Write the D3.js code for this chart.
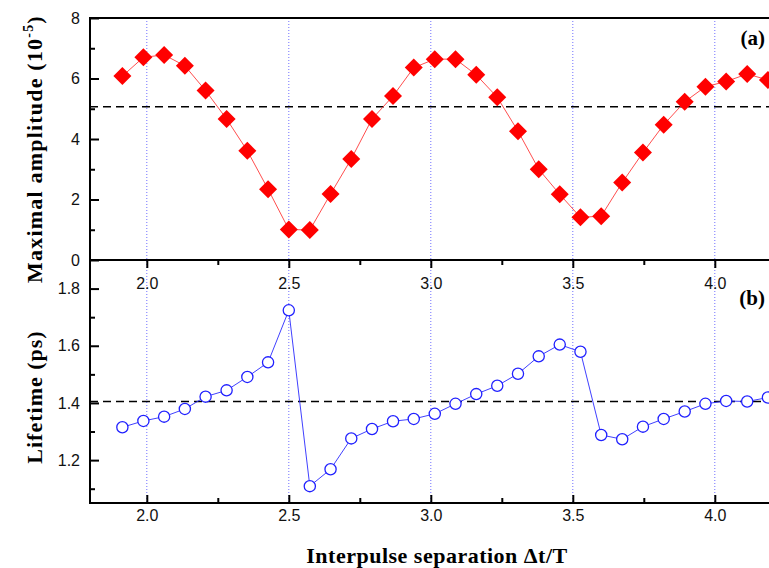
<!DOCTYPE html>
<html>
<head>
<meta charset="utf-8">
<script src="https://cdn.jsdelivr.net/npm/d3@7/dist/d3.min.js"></script>
<style>
  body { margin: 0; background: #fff; }
  svg { display: block; }
</style>
</head>
<body>
<div id="chart"></div>
<script>
// data
var separation = [1.914, 1.988, 2.061, 2.134, 2.207, 2.281, 2.354, 2.427, 2.500, 2.574,
  2.647, 2.720, 2.793, 2.867, 2.940, 3.014, 3.087, 3.160, 3.234, 3.307, 3.380, 3.454,
  3.527, 3.600, 3.674, 3.747, 3.820, 3.894, 3.967, 4.040, 4.114, 4.187];
var amplitude = [6.08, 6.70, 6.78, 6.42, 5.60, 4.66, 3.61, 2.34, 1.01, 0.99,
  2.18, 3.34, 4.66, 5.42, 6.36, 6.64, 6.64, 6.12, 5.38, 4.26, 3.00, 2.17,
  1.41, 1.45, 2.56, 3.55, 4.47, 5.23, 5.73, 5.90, 6.15, 5.95];
var lifetime = [1.315, 1.337, 1.352, 1.379, 1.422, 1.444, 1.491, 1.542, 1.724, 1.109,
  1.168, 1.276, 1.309, 1.336, 1.344, 1.362, 1.397, 1.431, 1.460, 1.502, 1.563, 1.604,
  1.579, 1.288, 1.273, 1.317, 1.344, 1.370, 1.397, 1.407, 1.405, 1.419];
var ampMean = 5.07;
var lifeMean = 1.405;

var xMajor = [2.0, 2.5, 3.0, 3.5, 4.0];
var xMinor = [2.25, 2.75, 3.25, 3.75, 4.25];
var ampMajor = [0, 2, 4, 6, 8];
var ampMinor = [1, 3, 5, 7];
var lifeMajor = [1.2, 1.4, 1.6, 1.8];
var lifeMinor = [1.1, 1.3, 1.5, 1.7];

var width = 769, height = 568;
var plotLeft = 90, plotTop = 18, plotMid = 260, plotBottom = 503;

var svg = d3.select('#chart').append('svg')
  .attr('width', width)
  .attr('height', height)
  .style('font-family', '"Liberation Sans", Arial, sans-serif');

// x runs past the right edge, the original is cut off there
var x = d3.scaleLinear().domain([1.8, 4.4]).range([plotLeft, plotLeft + 2.6 * 284]);
var yA = d3.scaleLinear().domain([0, 8]).range([plotMid, plotTop]);
var yL = d3.scaleLinear().domain([1.05, 1.9]).range([plotBottom, plotMid]);

// vertical blue dotted grid
svg.append('g').selectAll('line').data(xMajor)
  .enter().append('line')
    .attr('x1', function(d) { return x(d); })
    .attr('x2', function(d) { return x(d); })
    .attr('y1', plotTop)
    .attr('y2', plotBottom)
    .style('stroke', '#6f6fff')
    .style('stroke-width', 1)
    .style('stroke-dasharray', '1,2');

// dashed mean lines
svg.append('line')
  .attr('x1', plotLeft).attr('x2', width)
  .attr('y1', yA(ampMean)).attr('y2', yA(ampMean))
  .style('stroke', '#000').style('stroke-width', 1.5)
  .style('stroke-dasharray', '8,5');
svg.append('line')
  .attr('x1', plotLeft).attr('x2', width)
  .attr('y1', yL(lifeMean)).attr('y2', yL(lifeMean))
  .style('stroke', '#000').style('stroke-width', 1.5)
  .style('stroke-dasharray', '8,5');

function styleAxis(g) {
  g.selectAll('.domain').remove();
  g.selectAll('line').style('stroke', '#000').style('stroke-width', 2);
  g.selectAll('text').style('font-size', '16px').style('fill', '#111');
}

// left axes, ticks pointing inward
svg.append('g').attr('transform', 'translate(' + plotLeft + ',0)')
  .call(d3.axisLeft(yA).tickValues(ampMajor).tickSize(-9).tickPadding(10).tickFormat(d3.format('d')))
  .call(styleAxis);
svg.append('g').attr('transform', 'translate(' + plotLeft + ',0)')
  .call(d3.axisLeft(yA).tickValues(ampMinor).tickSize(-5).tickFormat(''))
  .call(styleAxis);
svg.append('g').attr('transform', 'translate(' + plotLeft + ',0)')
  .call(d3.axisLeft(yL).tickValues(lifeMajor).tickSize(-9).tickPadding(10).tickFormat(d3.format('.1f')))
  .call(styleAxis);
svg.append('g').attr('transform', 'translate(' + plotLeft + ',0)')
  .call(d3.axisLeft(yL).tickValues(lifeMinor).tickSize(-5).tickFormat(''))
  .call(styleAxis);

// middle axis, ticks down with labels below
svg.append('g').attr('transform', 'translate(0,' + plotMid + ')')
  .call(d3.axisBottom(x).tickValues(xMajor).tickSize(8).tickPadding(10).tickFormat(d3.format('.1f')))
  .call(styleAxis);
svg.append('g').attr('transform', 'translate(0,' + plotMid + ')')
  .call(d3.axisBottom(x).tickValues(xMinor).tickSize(5).tickFormat(''))
  .call(styleAxis);

// bottom axis, ticks up
svg.append('g').attr('transform', 'translate(0,' + plotBottom + ')')
  .call(d3.axisBottom(x).tickValues(xMajor).tickSize(-8).tickPadding(7).tickFormat(d3.format('.1f')))
  .call(styleAxis);
svg.append('g').attr('transform', 'translate(0,' + plotBottom + ')')
  .call(d3.axisBottom(x).tickValues(xMinor).tickSize(-5).tickFormat(''))
  .call(styleAxis);

// frame lines
[plotTop, plotMid, plotBottom].forEach(function(yy) {
  svg.append('line')
    .attr('x1', plotLeft - 1).attr('x2', width)
    .attr('y1', yy).attr('y2', yy)
    .style('stroke', '#000').style('stroke-width', 2);
});
svg.append('line')
  .attr('x1', plotLeft).attr('x2', plotLeft)
  .attr('y1', plotTop - 1).attr('y2', plotBottom + 1)
  .style('stroke', '#000').style('stroke-width', 2);

// panel (a): red diamonds
var lineA = d3.line()
  .x(function(d, i) { return x(separation[i]); })
  .y(function(d) { return yA(d); });
svg.append('path').datum(amplitude)
  .attr('d', lineA)
  .style('fill', 'none')
  .style('stroke', '#ff3a3a')
  .style('stroke-width', 0.9);
svg.append('g').selectAll('path').data(amplitude)
  .enter().append('path')
    .attr('transform', function(d, i) { return 'translate(' + x(separation[i]) + ',' + yA(d) + ')'; })
    .attr('d', 'M0,-9L9,0L0,9L-9,0Z')
    .style('fill', '#ff0000');

// panel (b): blue open circles
var lineL = d3.line()
  .x(function(d, i) { return x(separation[i]); })
  .y(function(d) { return yL(d); });
svg.append('path').datum(lifetime)
  .attr('d', lineL)
  .style('fill', 'none')
  .style('stroke', '#2a2aff')
  .style('stroke-width', 0.9);
svg.append('g').selectAll('circle').data(lifetime)
  .enter().append('circle')
    .attr('cx', function(d, i) { return x(separation[i]); })
    .attr('cy', function(d) { return yL(d); })
    .attr('r', 5.6)
    .style('fill', '#fff')
    .style('stroke', '#2020ff')
    .style('stroke-width', 1.3);

// panel tags
var serif = '"Liberation Serif", "Times New Roman", serif';
svg.append('text').attr('x', 765).attr('y', 45)
  .attr('text-anchor', 'end')
  .style('font-family', serif).style('font-weight', 'bold').style('font-size', '21px')
  .text('(a)');
svg.append('text').attr('x', 765).attr('y', 305)
  .attr('text-anchor', 'end')
  .style('font-family', serif).style('font-weight', 'bold').style('font-size', '21px')
  .text('(b)');

// axis titles
var tA = svg.append('text')
  .attr('transform', 'translate(42,149) rotate(-90)')
  .attr('text-anchor', 'middle')
  .style('font-family', serif).style('font-weight', 'bold').style('font-size', '22px')
  .style('letter-spacing', '1.2px');
tA.append('tspan').text('Maximal amplitude (10');
tA.append('tspan').attr('dy', -9).style('font-size', '14px').text('-5');
tA.append('tspan').attr('dy', 9).text(')');

svg.append('text')
  .attr('transform', 'translate(42,397) rotate(-90)')
  .attr('text-anchor', 'middle')
  .style('font-family', serif).style('font-weight', 'bold').style('font-size', '22px')
  .style('letter-spacing', '1px')
  .text('Lifetime (ps)');

svg.append('text')
  .attr('x', 437).attr('y', 563)
  .attr('text-anchor', 'middle')
  .style('font-family', serif).style('font-weight', 'bold').style('font-size', '22px')
  .style('letter-spacing', '0.5px')
  .text('Interpulse separation \u0394t/T');
</script>
</body>
</html>
